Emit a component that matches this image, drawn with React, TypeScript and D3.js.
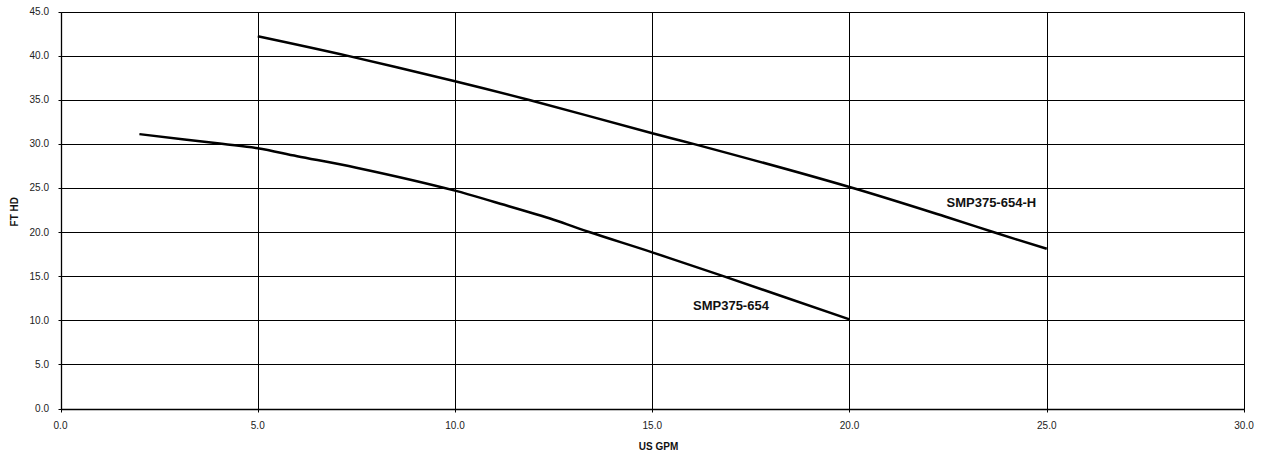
import React from "react";
import * as d3 from "d3";

const W = 1261;
const H = 454;

const xTicks = [0, 5, 10, 15, 20, 25, 30];
const yTicks = [0, 5, 10, 15, 20, 25, 30, 35, 40, 45];

const seriesHName = "SMP375-654-H";
const seriesHX = [5, 7.26, 10, 11.86, 15, 16.04, 20, 22.46, 23.64, 25];
const seriesHY = [42.2, 40, 37.1, 35, 31.2, 30, 25.1, 21.7, 20, 18.1];

const seriesLName = "SMP375-654";
const seriesLX = [2, 4.09, 5, 6, 7.5, 10, 11, 12.5, 13.4, 15, 16.8, 20];
const seriesLY = [31.1, 30, 29.5, 28.6, 27.3, 24.7, 23.4, 21.4, 20, 17.7, 15, 10.1];

const xTitle = "US GPM";
const yTitle = "FT HD";

const FONT = "'Liberation Sans', Arial, sans-serif";

export default function App() {
  const left = 60.5;
  const right = 1244;
  const top = 11.5;
  const bottom = 408.5;

  const x = d3.scaleLinear().domain([0, 30]).range([left, right]);
  const y = d3.scaleLinear().domain([0, 45]).range([bottom, top]);

  const line = d3
    .line<[number, number]>()
    .x((d) => x(d[0]))
    .y((d) => y(d[1]))
    .curve(d3.curveCatmullRom.alpha(0.5));

  const hPts: [number, number][] = seriesHX.map((v, i) => [v, seriesHY[i]]);
  const lPts: [number, number][] = seriesLX.map((v, i) => [v, seriesLY[i]]);

  const r = (v: number) => Math.round(v) + 0.5;

  return (
    <svg
      width={W}
      height={H}
      style={{ position: "absolute", left: 0, top: 0, background: "#fff" }}
      fontFamily={FONT}
    >
      <rect x={0} y={0} width={W} height={H} fill="#fff" />
      {yTicks.map((t) => (
        <line key={"hy" + t} x1={r(x(0))} x2={r(x(30))} y1={r(y(t))} y2={r(y(t))} stroke="#000" strokeWidth={1} />
      ))}
      {xTicks.map((t) => (
        <line key={"vx" + t} x1={r(x(t))} x2={r(x(t))} y1={r(y(45))} y2={r(y(0))} stroke="#000" strokeWidth={1} />
      ))}
      <line x1={r(x(0))} x2={r(x(0))} y1={r(y(45))} y2={r(y(0))} stroke="#000" strokeWidth={1.3} />
      <line x1={r(x(0))} x2={r(x(30))} y1={r(y(0))} y2={r(y(0))} stroke="#000" strokeWidth={1.3} />
      {yTicks.map((t) => (
        <g key={"yt" + t}>
          <line x1={r(x(0)) - 3} x2={r(x(0))} y1={r(y(t))} y2={r(y(t))} stroke="#000" />
          <text x={49} y={y(t)} dy="0.35em" textAnchor="end" fontSize={10} fill="#222">
            {t.toFixed(1)}
          </text>
        </g>
      ))}
      {xTicks.map((t) => (
        <g key={"xt" + t}>
          <line x1={r(x(t))} x2={r(x(t))} y1={r(y(0))} y2={r(y(0)) + 3} stroke="#000" />
          <text x={x(t)} y={429} textAnchor="middle" fontSize={10} fill="#222">
            {t.toFixed(1)}
          </text>
        </g>
      ))}
      <path d={line(hPts) || ""} fill="none" stroke="#000" strokeWidth={2.5} />
      <path d={line(lPts) || ""} fill="none" stroke="#000" strokeWidth={2.5} />
      <text x={693} y={309.5} fontSize={13} fontWeight="bold" fill="#111">
        {seriesLName}
      </text>
      <text x={946.5} y={206.5} fontSize={13} fontWeight="bold" fill="#111">
        {seriesHName}
      </text>
      <text x={658.5} y={450} textAnchor="middle" fontSize={10} fontWeight="bold" fill="#111">
        {xTitle}
      </text>
      <text
        transform="translate(18,211.7) rotate(-90)"
        textAnchor="middle"
        fontSize={10}
        fontWeight="bold"
        fill="#111"
      >
        {yTitle}
      </text>
    </svg>
  );
}
